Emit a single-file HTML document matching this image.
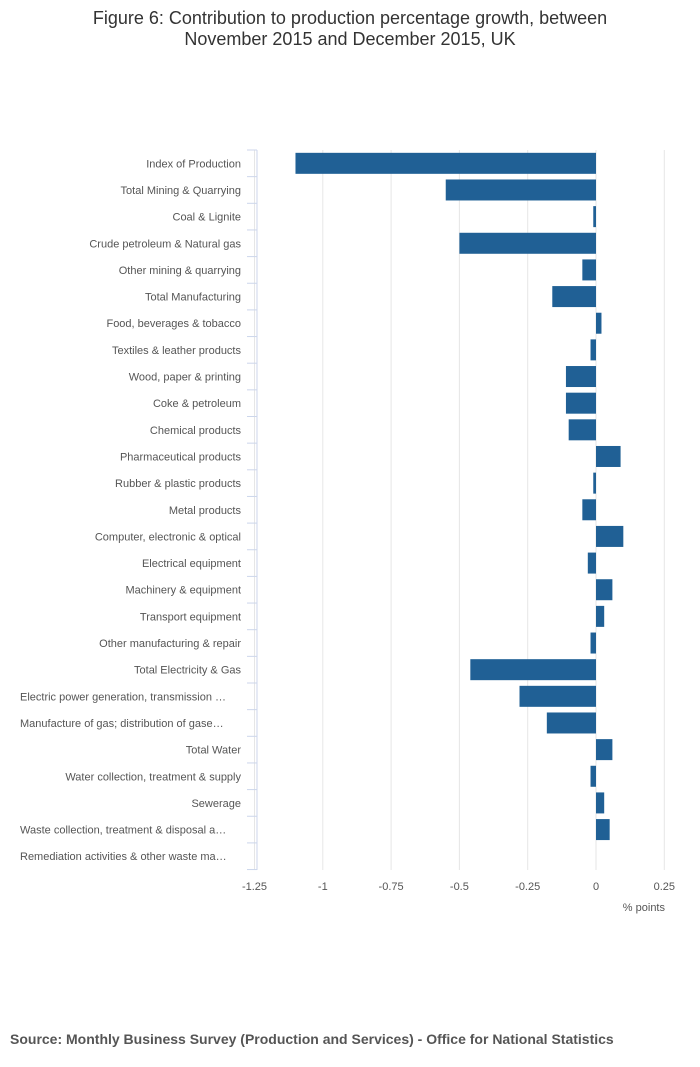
<!DOCTYPE html>
<html><head><meta charset="utf-8"><style>
body{margin:0;background:#fff;font-family:"Liberation Sans",sans-serif;}
#wrap{position:relative;width:700px;height:1067px;}
.title{position:absolute;top:8px;left:0;width:700px;text-align:center;font-size:18px;color:#333;line-height:21px;}
.src{position:absolute;left:10px;top:1031px;font-size:14px;font-weight:bold;color:#555;}
</style></head><body>
<div id="wrap">
<div class="title">Figure 6: Contribution to production percentage growth, between<br>November 2015 and December 2015, UK</div>
<svg id="c" width="700" height="1067" style="position:absolute;left:0;top:0"></svg>
<div class="src">Source: Monthly Business Survey (Production and Services) - Office for National Statistics</div>
</div>
<script>
const categories=["Index of Production","Total Mining & Quarrying","Coal & Lignite","Crude petroleum & Natural gas","Other mining & quarrying","Total Manufacturing","Food, beverages & tobacco","Textiles & leather products","Wood, paper & printing","Coke & petroleum","Chemical products","Pharmaceutical products","Rubber & plastic products","Metal products","Computer, electronic & optical","Electrical equipment","Machinery & equipment","Transport equipment","Other manufacturing & repair","Total Electricity & Gas","Electric power generation, transmission …","Manufacture of gas; distribution of gase…","Total Water","Water collection, treatment & supply","Sewerage","Waste collection, treatment & disposal a…","Remediation activities & other waste ma…"];
const values=[-1.10,-0.55,-0.01,-0.50,-0.05,-0.16,0.02,-0.02,-0.11,-0.11,-0.10,0.09,-0.01,-0.05,0.10,-0.03,0.06,0.03,-0.02,-0.46,-0.28,-0.18,0.06,-0.02,0.03,0.05,0];
const ticks=[-1.25,-1,-0.75,-0.5,-0.25,0,0.25];
const tickLabels=["-1.25","-1","-0.75","-0.5","-0.25","0","0.25"];
const svg=document.getElementById('c');const NS="http://www.w3.org/2000/svg";
const x=v=>596+v*273.2;
const top0=150,step=26.65;
const y=i=>top0+i*step;
function mk(t,a,p){const e=document.createElementNS(NS,t);for(const k in a)e.setAttribute(k,a[k]);(p||svg).appendChild(e);return e;}
ticks.forEach((t,i)=>{
 const g=mk('line',{x1:x(t),x2:x(t),y1:150,y2:870,stroke:'#e6e6e6','stroke-width':1});
 
 
 const tx=mk('text',{x:x(t),y:890,'text-anchor':'middle','font-size':11,fill:'#555'});
 tx.textContent=tickLabels[i];
 
 
});
const ax=mk('line',{x1:257,x2:257,y1:150,y2:870,stroke:'#ccd6eb','stroke-width':1});


for(let i=0;i<=categories.length;i++){
 const tk=mk('line',{x1:247,x2:257,y1:y(i),y2:y(i),stroke:'#ccd6eb','stroke-width':1});
 
 
}
categories.forEach((c,i)=>{
 const cy=y(i)+step/2;
 const long=c.endsWith('…');
 const t=mk('text',{x:long?20:241,y:cy+4,'text-anchor':long?'start':'end','font-size':11,fill:'#555'});
 t.textContent=c;
 
 
 const v=values[i];
 const r=mk('rect',{x:Math.min(x(0),x(v)),y:cy-10.5,width:Math.abs(x(v)-x(0)),height:21,fill:'#206095'});
 
 
});
const at=mk('text',{x:665,y:911,'text-anchor':'end','font-size':11,fill:'#555'});
at.textContent='% points';


</script>
</body></html>
